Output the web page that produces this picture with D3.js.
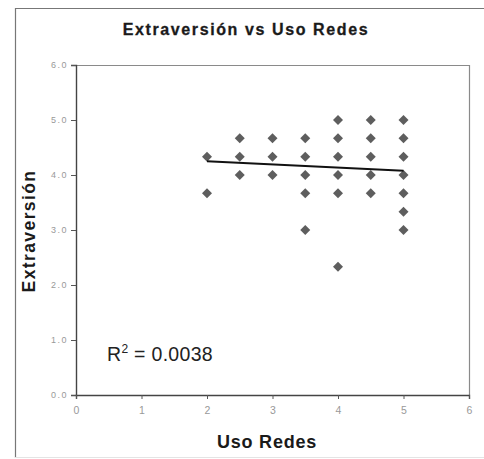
<!DOCTYPE html>
<html>
<head>
<meta charset="utf-8">
<script src="https://cdn.jsdelivr.net/npm/d3@7"></script>
<style>
  html, body { margin: 0; padding: 0; background: #fff; }
  svg { display: block; font-family: "Liberation Sans", Arial, sans-serif; }
</style>
</head>
<body>
<svg id="chart" width="484" height="459"></svg>
<script>
// ---- data ----
const usoRedes = [2, 2,
  2.5, 2.5, 2.5,
  3, 3, 3,
  3.5, 3.5, 3.5, 3.5, 3.5,
  4, 4, 4, 4, 4, 4,
  4.5, 4.5, 4.5, 4.5, 4.5,
  5, 5, 5, 5, 5, 5, 5];
const extraversion = [4.333, 3.667,
  4.667, 4.333, 4.0,
  4.667, 4.333, 4.0,
  4.667, 4.333, 4.0, 3.667, 3.0,
  5.0, 4.667, 4.333, 4.0, 3.667, 2.333,
  5.0, 4.667, 4.333, 4.0, 3.667,
  5.0, 4.667, 4.333, 4.0, 3.667, 3.333, 3.0];
const trendX = [2, 5];
const trendIntercept = 4.363;
const trendSlope = -0.0567;
const xTicks = [0, 1, 2, 3, 4, 5, 6];
const xTickLabels = ["0", "1", "2", "3", "4", "5", "6"];
const yTicks = [0, 1, 2, 3, 4, 5, 6];
const yTickLabels = ["0.0", "1.0", "2.0", "3.0", "4.0", "5.0", "6.0"];
const titleText = "Extraversión vs Uso Redes";
const xLabel = "Uso Redes";
const yLabel = "Extraversión";
const r2Value = "0.0038";

// ---- layout ----
const svg = d3.select("#chart");
const L = 76, R = 469, T = 65, B = 395;
const x = d3.scaleLinear().domain([0, 6]).range([L, R]);
const y = d3.scaleLinear().domain([0, 6]).range([B, T]);

// outer frame
svg.append("path")
  .attr("d", "M15.5,458 V8.5 H484")
  .attr("fill", "none").attr("stroke", "#777").attr("stroke-width", 1.2);
svg.append("line")
  .attr("x1", 15).attr("x2", 484).attr("y1", 457.5).attr("y2", 457.5)
  .attr("stroke", "#e4e4e4").attr("stroke-width", 1);

// plot border (top & right)
svg.append("path")
  .attr("d", `M${L},${T + 0.5} H${R + 0.5} V${B}`)
  .attr("fill", "none").attr("stroke", "#8a8a8a").attr("stroke-width", 1.2);

// axes
const yAxis = d3.axisLeft(y).tickValues(yTicks)
  .tickFormat((d, i) => yTickLabels[i]).tickSize(5).tickPadding(3);
const gy = svg.append("g").attr("transform", `translate(${L},0)`).call(yAxis);
const xAxis = d3.axisBottom(x).tickValues(xTicks)
  .tickFormat((d, i) => xTickLabels[i]).tickSize(4).tickPadding(8);
const gx = svg.append("g").attr("transform", `translate(0,${B})`).call(xAxis);
[gx, gy].forEach(g => {
  g.select(".domain").attr("stroke", "#444").attr("stroke-width", 1.4);
  g.selectAll(".tick line").attr("stroke", "#555");
  g.selectAll(".tick text").attr("fill", "#999")
    .style("font-size", "9px").style("letter-spacing", "1.5px")
    .style("font-family", "'Liberation Sans', Arial, sans-serif");
});
gx.selectAll(".tick text").style("font-size", "10.5px").style("letter-spacing", "0px");

// points
const pts = usoRedes.map((v, i) => ({ x: v, y: extraversion[i] }));
const diamond = d3.symbol().type(d3.symbolDiamond2).size(64);
svg.append("g").selectAll("path").data(pts).join("path")
  .attr("d", diamond)
  .attr("transform", d => `translate(${x(d.x)},${y(d.y)})`)
  .attr("fill", "#5e5e5e");

// trend line
const line = d3.line().x(d => x(d)).y(d => y(trendIntercept + trendSlope * d));
svg.append("path").datum(trendX)
  .attr("d", line).attr("fill", "none")
  .attr("stroke", "#111").attr("stroke-width", 2);

// title
svg.append("text")
  .attr("x", 246).attr("y", 35)
  .attr("text-anchor", "middle")
  .style("font-size", "16px").style("font-weight", "bold")
  .style("letter-spacing", "1.6px").attr("fill", "#1a1a1a")
  .style("stroke", "#1a1a1a").style("stroke-width", "0.3px")
  .text(titleText);

// axis titles
svg.append("text")
  .attr("x", 267).attr("y", 448)
  .attr("text-anchor", "middle")
  .style("font-size", "18px").style("font-weight", "bold")
  .style("letter-spacing", "0.8px").attr("fill", "#1a1a1a")
  .text(xLabel);
svg.append("text")
  .attr("transform", "translate(35,231) rotate(-90)")
  .attr("text-anchor", "middle")
  .style("font-size", "17.5px").style("font-weight", "bold")
  .style("letter-spacing", "1.4px").attr("fill", "#1a1a1a")
  .text(yLabel);

// R^2 label
const r2 = svg.append("text")
  .attr("x", 107).attr("y", 361)
  .style("font-size", "19.5px").style("letter-spacing", "0.3px").attr("fill", "#222");
r2.append("tspan").text("R");
r2.append("tspan").attr("dy", -8).style("font-size", "12px").text("2");
r2.append("tspan").attr("dy", 8).text(" = " + r2Value);
</script>
</body>
</html>
